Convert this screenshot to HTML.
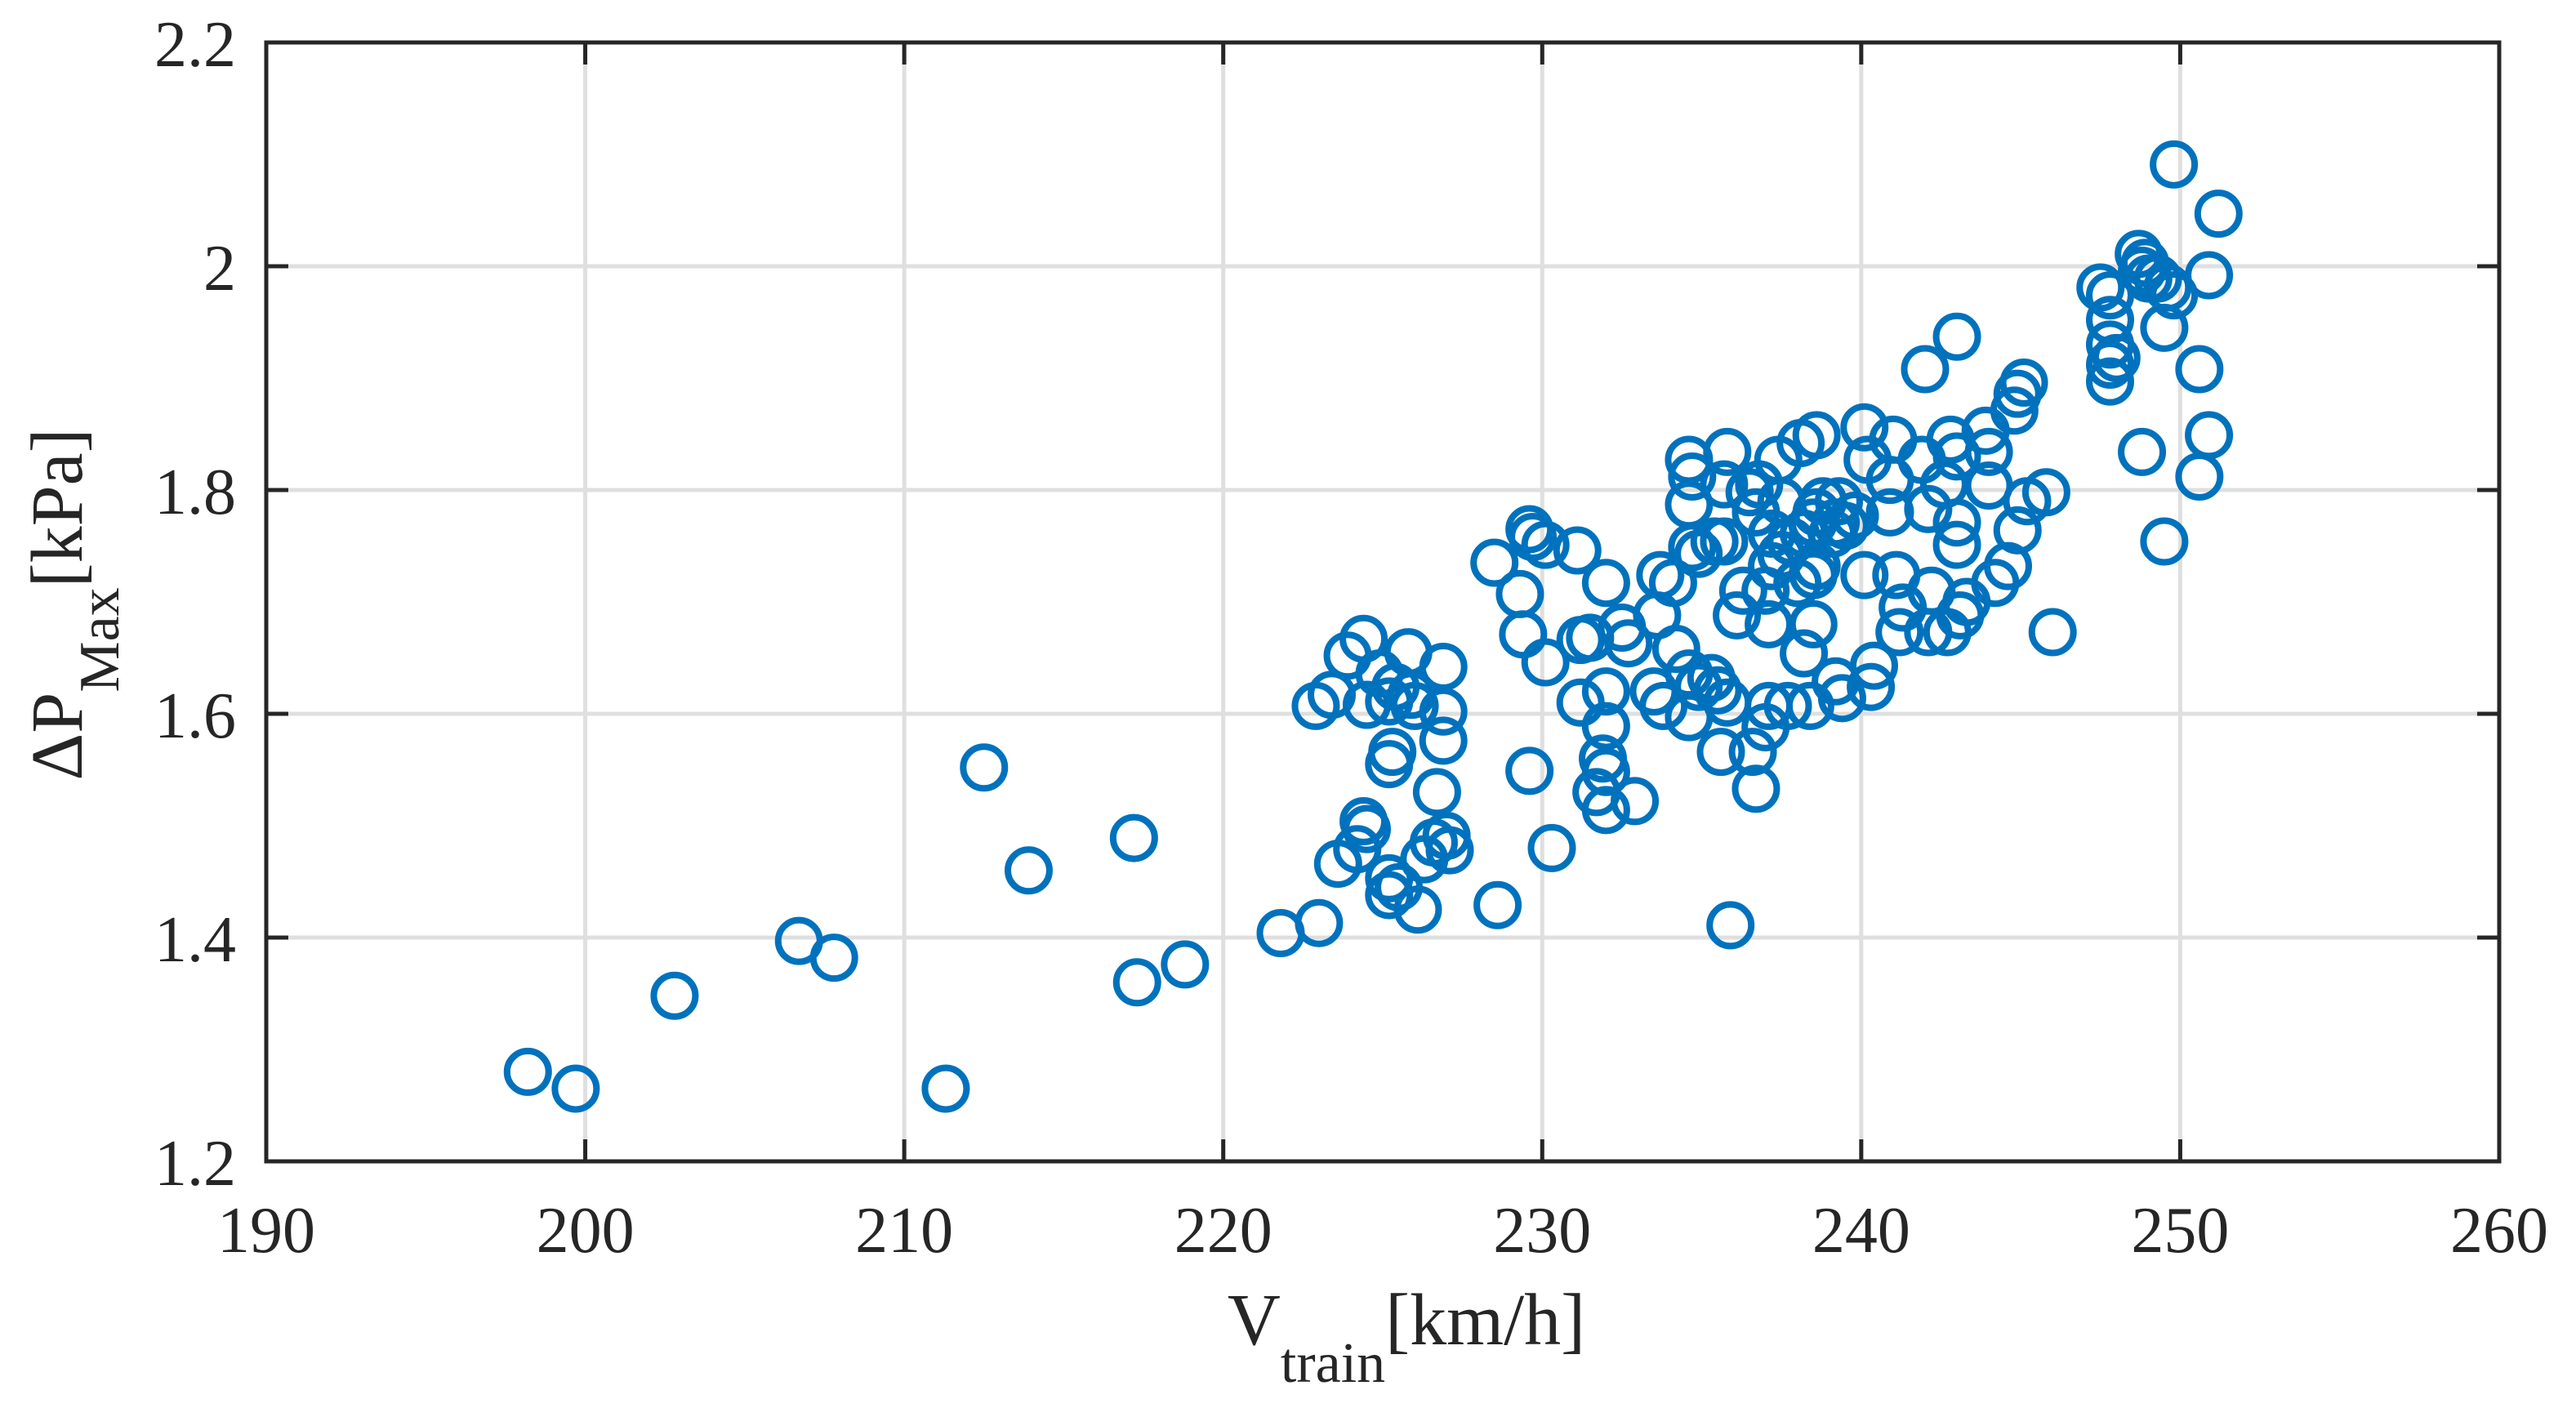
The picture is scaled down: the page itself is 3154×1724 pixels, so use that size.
<!DOCTYPE html>
<html><head><meta charset="utf-8"><style>
html,body{margin:0;padding:0;background:#fff;}
svg{display:block;}
</style></head><body>
<svg id="chart" width="3154" height="1724" viewBox="0 0 3154 1724" xmlns="http://www.w3.org/2000/svg" font-family="'Liberation Serif', serif">
<rect x="0" y="0" width="3154" height="1724" fill="#fff"/>
<g id="grid"></g>
<g id="points"></g>
<g id="axes"></g>
<text x="1722" y="1646" font-size="90" text-anchor="middle" fill="#262626">V<tspan font-size="70" dy="46">train</tspan><tspan dy="-46">[km/h]</tspan></text>
<text transform="translate(100,740) rotate(-90)" x="0" y="0" font-size="90" text-anchor="middle" fill="#262626">ΔP<tspan font-size="70" dy="45">Max</tspan><tspan dy="-45">[kPa]</tspan></text>
</svg>
<script>
const xTicks = [190,200,210,220,230,240,250,260];
const yTicks = [1.2,1.4,1.6,1.8,2.0,2.2];
const yTickLabels = ["1.2","1.4","1.6","1.8","2","2.2"];
const speeds = [198.2,199.7,202.8,206.7,207.8,211.3,212.5,213.9,217.2,217.3,218.8,221.8,223.0,222.9,223.4,223.6,223.9,224.4,224.2,224.5,224.4,224.5,224.9,225.2,225.3,225.2,225.4,225.2,225.5,225.2,225.8,225.9,226.0,226.1,226.3,226.6,226.7,226.9,226.9,226.9,227.0,227.1,228.5,228.6,229.3,229.4,229.6,229.7,229.6,230.1,230.1,230.3,231.1,231.2,231.2,231.5,232.0,232.0,232.0,231.9,232.0,231.7,232.0,232.5,232.7,232.9,233.5,233.7,233.6,234.1,234.2,233.8,234.6,234.7,234.6,234.7,234.9,234.6,234.6,234.9,235.3,235.6,235.8,235.7,235.4,235.7,235.5,235.8,235.9,236.1,236.3,236.5,236.6,236.7,236.8,236.7,237.0,237.0,237.1,237.1,237.2,237.2,237.4,237.5,237.5,237.7,237.8,238.0,238.1,238.2,238.2,238.4,238.5,238.5,238.5,238.6,238.6,238.6,238.8,239.1,239.2,239.3,239.2,239.4,239.5,239.8,240.1,240.1,240.2,240.3,240.4,240.9,241.0,240.9,241.1,241.3,241.2,242.0,241.9,242.1,242.1,242.2,242.6,242.8,242.7,243.0,243.0,243.0,243.0,243.1,243.3,243.9,244.0,244.0,244.2,244.6,244.8,244.9,245.1,244.9,245.2,245.8,246.0,247.5,247.8,247.8,247.8,247.8,247.8,248.0,248.7,248.8,248.9,249.0,248.8,249.3,249.6,249.5,249.8,249.5,249.8,250.6,250.6,250.9,250.9,251.2];
const pressures = [1.28,1.265,1.348,1.397,1.382,1.265,1.552,1.46,1.489,1.36,1.376,1.404,1.413,1.607,1.617,1.466,1.652,1.667,1.479,1.497,1.504,1.608,1.636,1.555,1.566,1.611,1.624,1.453,1.445,1.438,1.655,1.617,1.607,1.425,1.47,1.485,1.53,1.642,1.602,1.576,1.491,1.478,1.735,1.429,1.707,1.671,1.765,1.758,1.549,1.751,1.646,1.48,1.746,1.61,1.666,1.668,1.717,1.62,1.589,1.56,1.548,1.53,1.514,1.677,1.663,1.522,1.62,1.724,1.688,1.717,1.658,1.607,1.827,1.812,1.787,1.749,1.743,1.636,1.597,1.624,1.632,1.566,1.834,1.805,1.754,1.754,1.621,1.61,1.411,1.688,1.71,1.798,1.566,1.533,1.805,1.78,1.71,1.588,1.607,1.68,1.761,1.732,1.827,1.742,1.79,1.607,1.754,1.717,1.842,1.654,1.761,1.607,1.68,1.771,1.724,1.849,1.78,1.732,1.79,1.761,1.771,1.79,1.629,1.614,1.768,1.777,1.856,1.724,1.827,1.624,1.643,1.809,1.845,1.78,1.724,1.695,1.673,1.908,1.827,1.783,1.673,1.71,1.805,1.845,1.673,1.937,1.83,1.771,1.751,1.688,1.70,1.853,1.834,1.804,1.717,1.732,1.871,1.886,1.896,1.764,1.79,1.798,1.673,1.981,1.974,1.952,1.930,1.912,1.897,1.918,2.011,1.996,2.003,1.989,1.834,1.989,1.981,1.945,1.974,1.754,2.091,1.908,1.812,1.849,1.992,2.047];

const NS = "http://www.w3.org/2000/svg";
const L = 326, R = 3060, T = 52, B = 1422;
const xMin = 190, xMax = 260, yMin = 1.2, yMax = 2.2;
function sx(v){ return L + (v - xMin) / (xMax - xMin) * (R - L); }
function sy(v){ return B - (v - yMin) / (yMax - yMin) * (B - T); }
function mk(tag, attrs, parent){
  const e = document.createElementNS(NS, tag);
  for (const k in attrs) e.setAttribute(k, attrs[k]);
  parent.appendChild(e);
  return e;
}
const grid = document.getElementById('grid');
const axes = document.getElementById('axes');
const pts = document.getElementById('points');

xTicks.forEach((t, i) => {
  const x = sx(t);
  if (i > 0 && i < xTicks.length - 1) {
    const g = mk('line', {x1:x, x2:x, y1:T, y2:B, stroke:'#dfdfdf', 'stroke-width':5}, grid);
    
    
  }
  const tk = mk('line', {x1:x, x2:x, y1:B, y2:B-27, stroke:'#262626', 'stroke-width':5}, axes);
  
  
  const tk2 = mk('line', {x1:x, x2:x, y1:T, y2:T+27, stroke:'#262626', 'stroke-width':5}, axes);
  
  
  const lb = mk('text', {x:x, y:1533, 'font-size':80, 'text-anchor':'middle', fill:'#262626'}, axes);
  lb.textContent = String(t);
  
  
});
yTicks.forEach((t, i) => {
  const y = sy(t);
  if (i > 0 && i < yTicks.length - 1) {
    const g = mk('line', {x1:L, x2:R, y1:y, y2:y, stroke:'#dfdfdf', 'stroke-width':5}, grid);
    
    
  }
  const tk = mk('line', {x1:L, x2:L+27, y1:y, y2:y, stroke:'#262626', 'stroke-width':5}, axes);
  
  
  const tk2 = mk('line', {x1:R, x2:R-27, y1:y, y2:y, stroke:'#262626', 'stroke-width':5}, axes);
  
  
  const lb = mk('text', {x:289, y:y+29, 'font-size':80, 'text-anchor':'end', fill:'#262626'}, axes);
  lb.textContent = yTickLabels[i];
  
  
});
const frame = mk('rect', {x:L, y:T, width:R-L, height:B-T, fill:'none', stroke:'#262626', 'stroke-width':5}, axes);



speeds.forEach((v, i) => {
  const c = mk('circle', {cx:sx(v), cy:sy(pressures[i]), r:25.5, fill:'none', stroke:'#0072BD', 'stroke-width':8}, pts);
  
  
});
</script>
</body></html>
